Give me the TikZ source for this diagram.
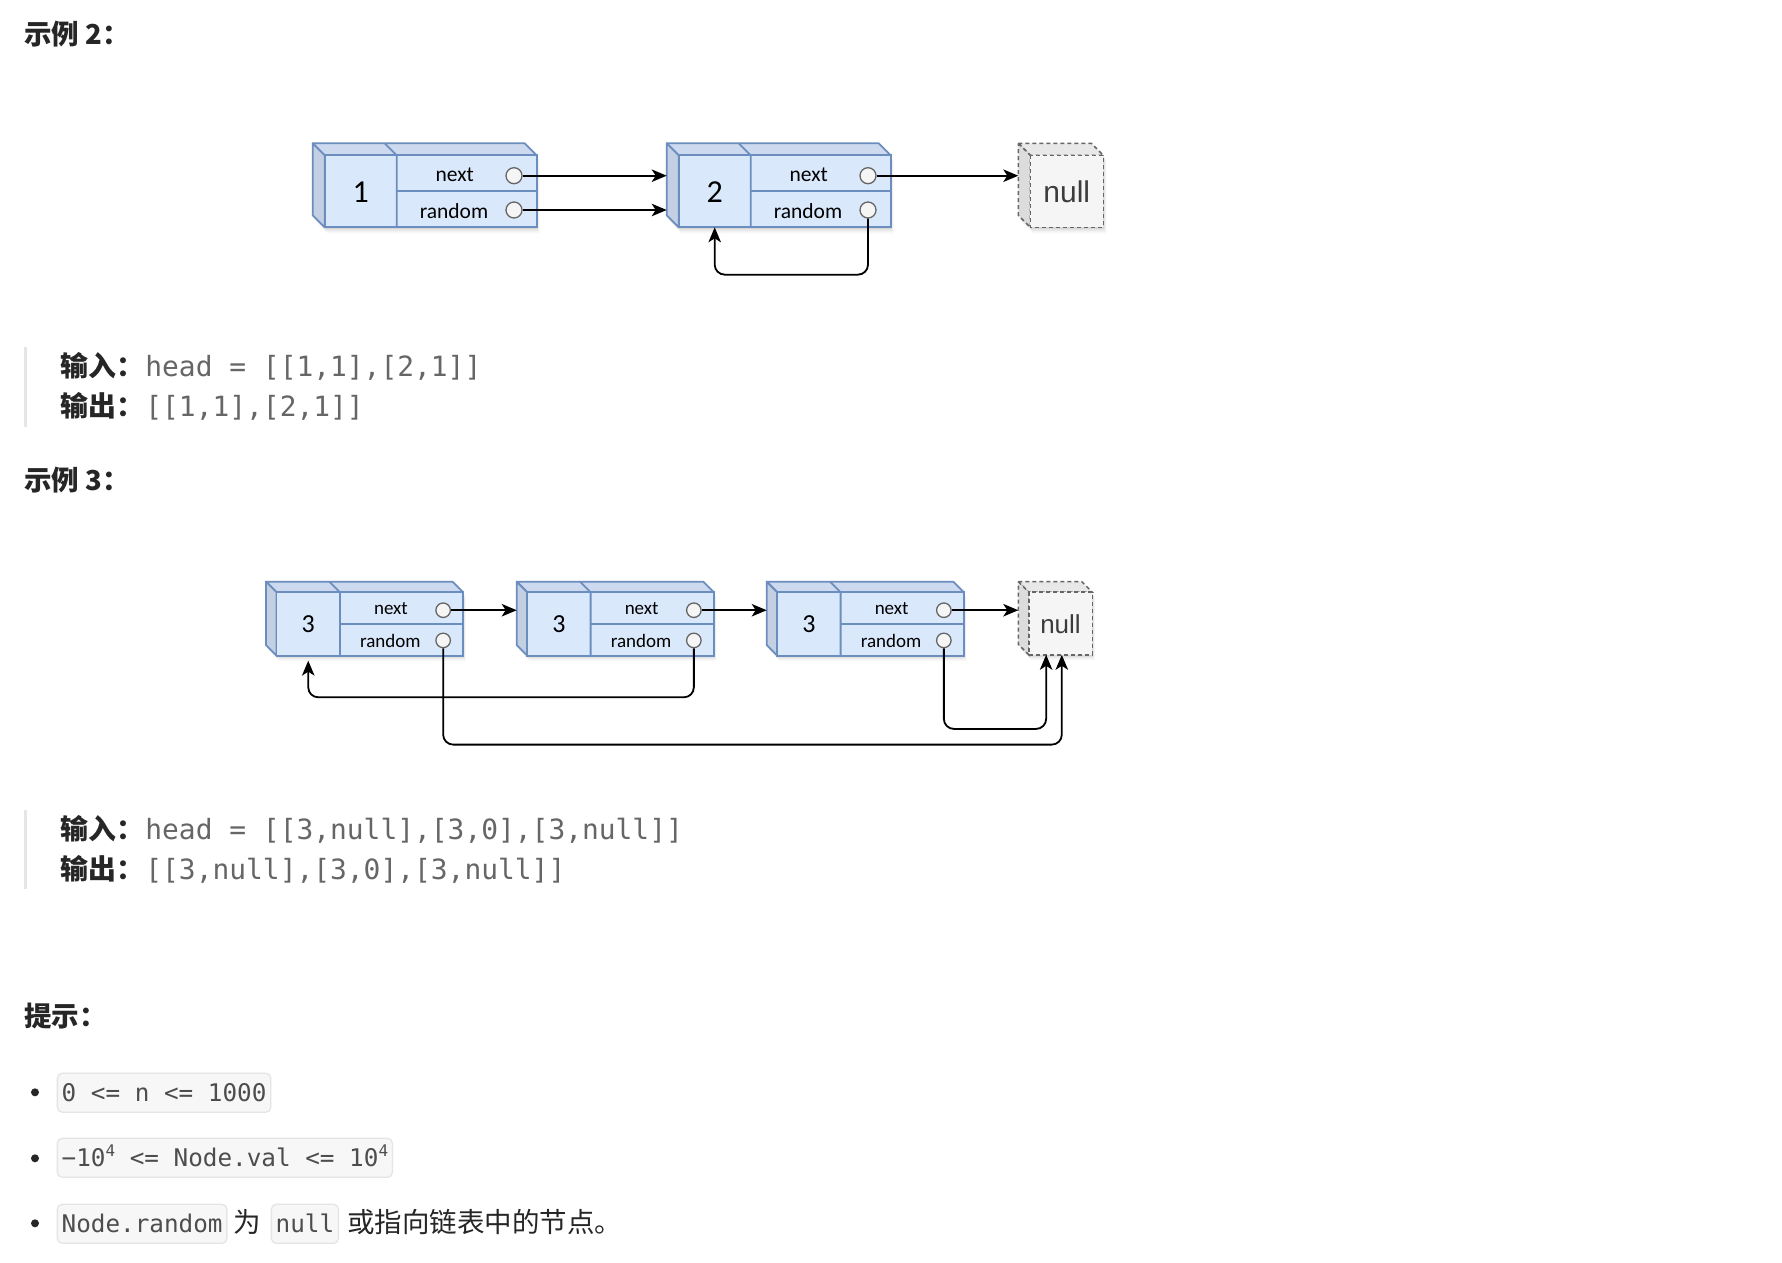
\documentclass[tikz,border=0pt]{standalone}
\usepackage{fontspec}
\usetikzlibrary{arrows.meta}
\newfontfamily\cjkf{Noto Sans CJK SC}
\newfontfamily\monof{DejaVu Sans Mono}
\newfontfamily\comicf{Carlito}
\newfontfamily\helvf{Liberation Sans}
\definecolor{frontblue}{HTML}{DAE8FC}
\definecolor{topblue}{HTML}{CCD9EE}
\definecolor{leftblue}{HTML}{C3CFE3}
\definecolor{strokeblue}{HTML}{6C8EBF}
\definecolor{nullfront}{HTML}{F5F5F5}
\definecolor{nulltop}{HTML}{E8E8E8}
\definecolor{nullleft}{HTML}{DCDCDC}
\definecolor{graystroke}{HTML}{666666}
\definecolor{headcol}{HTML}{262626}
\definecolor{quotegray}{HTML}{666666}
\definecolor{codegray}{HTML}{4D4D4D}
\definecolor{barcol}{HTML}{E6E6E6}
\definecolor{codefill}{HTML}{F7F7F7}
\definecolor{codeline}{HTML}{E5E5E5}

\newcommand{\cubenode}[8]{%
\begin{scope}[shift={(#2,#3)}, scale=#4]
  \foreach \o/\op in {2/0.07,4/0.05,6/0.03}{
    \fill[black, opacity=\op] (\o*0.5,\o) -- (212+\o*0.5,\o) -- (224+\o*0.5,12+\o) -- (224+\o*0.5,84+\o) -- (12+\o*0.5,84+\o) -- (\o*0.5,72+\o) -- cycle;}
  \filldraw[fill=topblue, draw=strokeblue, line width=1.8pt, line join=round] (0,0) -- (212,0) -- (224,12) -- (12,12) -- cycle;
  \filldraw[fill=leftblue, draw=strokeblue, line width=1.8pt, line join=round] (0,0) -- (12,12) -- (12,84) -- (0,72) -- cycle;
  \filldraw[fill=frontblue, draw=strokeblue, line width=1.8pt] (12,12) rectangle (224,84);
  \draw[strokeblue, line width=1.8pt] (72,0) -- (84,12) -- (84,84);
  \draw[strokeblue, line width=1.8pt] (84,48) -- (224,48);
  \node[font=\comicf\fontsize{#6}{#6}\selectfont, text=black, inner sep=0pt] (#1-val) at (48,48.5) {#5};
  \node[font=\comicf\fontsize{#7}{#7}\selectfont, text=black, inner sep=0pt, anchor=base] (#1-lnext) at (142,37.7) {next};
  \node[font=\comicf\fontsize{#7}{#7}\selectfont, text=black, inner sep=0pt, anchor=base] (#1-lrand) at (141.3,75) {random};
  \node[port, minimum size=#8pt] (#1-next) at (201.3,32.4) {};
  \node[port, minimum size=#8pt] (#1-rand) at (201.3,66.7) {};
  \coordinate (#1-left) at (0,48);
  \coordinate (#1-bot) at (48,84);
\end{scope}}

\newcommand{\nullbox}[5]{%
\begin{scope}[shift={(#2,#3)}, scale=#4]
  \foreach \o/\op in {2/0.07,4/0.05,6/0.03}{
    \fill[black, opacity=\op] (\o*0.5,\o) -- (73+\o*0.5,\o) -- (85+\o*0.5,12+\o) -- (85+\o*0.5,84+\o) -- (12+\o*0.5,84+\o) -- (\o*0.5,72+\o) -- cycle;}
  \filldraw[fill=nulltop, draw=graystroke, line width=1.5pt, dash pattern=on 4pt off 3pt] (0,0) -- (73,0) -- (85,12) -- (12,12) -- cycle;
  \filldraw[fill=nullleft, draw=graystroke, line width=1.5pt, dash pattern=on 4pt off 3pt] (0,0) -- (12,12) -- (12,84) -- (0,72) -- cycle;
  \filldraw[fill=nullfront, draw=graystroke, line width=1.5pt, dash pattern=on 4pt off 3pt] (12,12) rectangle (85,84);
  \node[font=\helvf\fontsize{#5}{#5}\selectfont, text=headcol!90, inner sep=0pt] (#1-txt) at (48.5,48.5) {null};
  \coordinate (#1-left) at (0,48);
  \coordinate (#1-b1) at (32,84);
  \coordinate (#1-b2) at (50,84);
\end{scope}}

\begin{document}
\begin{tikzpicture}[x=1pt,y=-1pt,
  port/.style={circle, draw=graystroke, fill=nullfront, line width=1.3pt, inner sep=0pt},
  arr/.style={-{Stealth[length=15pt,width=12.5pt,inset=4pt]}, line width=1.8pt, black, rounded corners=10pt},
  headtxt/.style={font=\cjkf\bfseries\fontsize{27.5}{33}\selectfont, text=headcol, inner sep=0pt, anchor=base west},
  quotetxt/.style={font=\fontsize{27.9}{33}\selectfont, text=headcol, inner sep=0pt, anchor=base west},
  codebox/.style={draw=codeline, fill=codefill, rounded corners=5pt, line width=1.3pt, inner xsep=4.3pt, inner ysep=0pt, text height=28.4pt, text depth=10.6pt, font=\monof\fontsize{24.3}{28}\selectfont, text=codegray, anchor=base west},
  hinttxt/.style={font=\cjkf\fontsize{27.5}{33}\selectfont, text=headcol, inner sep=0pt, anchor=base west},
  bulletdot/.style={circle, fill=headcol, inner sep=0pt, minimum size=8pt}]
\useasboundingbox (0,0) rectangle (1782,1262);
\fill[white] (0,0) rectangle (1782,1262);

% ---------- Example 2 ----------
\node[headtxt] (h2) at (24,44) {示例 2：};

\cubenode{n1}{312.7}{143.3}{1}{1}{32}{21.5}{16}
\cubenode{n2}{666.7}{143.3}{1}{2}{32}{21.5}{16}
\nullbox{z1}{1018.3}{143.3}{1}{30}

\draw[arr] (n1-next) -- (n1-next -| n2-left);
\draw[arr] (n1-rand) -- (n1-rand -| n2-left);
\draw[arr] (n2-next) -- (n2-next -| z1-left);
\draw[arr] (n2-rand.south) -- ++(0,56) -| (n2-bot);

\draw[barcol, line width=3.3pt] (25.7,346.7) -- (25.7,426.7);
\node[quotetxt] (q1) at (60,376) {{\cjkf\bfseries 输入：}\hspace{1.5pt}{\monof\color{quotegray}head = [[1,1],[2,1]]}};
\node[quotetxt] (q2) at (60,416) {{\cjkf\bfseries 输出：}\hspace{1.5pt}{\monof\color{quotegray}[[1,1],[2,1]]}};

% ---------- Example 3 ----------
\node[headtxt] (h3) at (24,490) {示例 3：};

\cubenode{a}{266}{581.7}{0.88}{3}{26}{19}{14.5}
\cubenode{b}{516.7}{581.7}{0.88}{3}{26}{19}{14.5}
\cubenode{c}{766.7}{581.7}{0.88}{3}{26}{19}{14.5}
\nullbox{z2}{1018.3}{581.7}{0.87}{26}

\draw[arr] (a-next) -- (a-next -| b-left);
\draw[arr] (b-next) -- (b-next -| c-left);
\draw[arr] (c-next) -- (c-next -| z2-left);
\draw[arr, shorten >=5pt] (b-rand.south) -- ++(0,49) -| (a-bot);
\draw[arr] (a-rand.south) -- ++(0,96.3) -| (z2-b2);
\draw[arr] (c-rand.south) -- ++(0,80.6) -| (z2-b1);

\draw[barcol, line width=3.3pt] (25.7,810) -- (25.7,889.3);
\node[quotetxt] (q3) at (60,839.5) {{\cjkf\bfseries 输入：}\hspace{1.5pt}{\monof\color{quotegray}head = [[3,null],[3,0],[3,null]]}};
\node[quotetxt] (q4) at (60,879) {{\cjkf\bfseries 输出：}\hspace{1.5pt}{\monof\color{quotegray}[[3,null],[3,0],[3,null]]}};

% ---------- Hints ----------
\node[headtxt] (h4) at (24,1026.5) {提示：};

\node[bulletdot] (d1) at (35,1092.3) {};
\node[codebox] (k1) at (56.7,1101.7) {0 <= n <= 1000};

\node[bulletdot] (d2) at (35,1158.3) {};
\node[codebox] (k2) at (56.7,1166.7) {−10\raisebox{10pt}{\fontsize{16}{16}\selectfont 4} <= Node.val <= 10\raisebox{10pt}{\fontsize{16}{16}\selectfont 4}};

\node[bulletdot] (d3) at (35,1223.3) {};
\node[codebox] (k3) at (56.7,1232.7) {Node.random};
\node[hinttxt] (w1) at (233,1232.7) {为};
\node[codebox] (k4) at (270.7,1232.7) {null};
\node[hinttxt] (w2) at (347,1232.7) {或指向链表中的节点。};
\end{tikzpicture}
\end{document}
